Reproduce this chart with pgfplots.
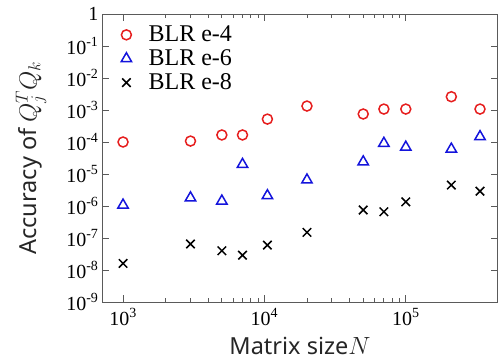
\documentclass[border=0pt]{standalone}
\usepackage{pgfplots}
\pgfplotsset{compat=1.18}
\usepackage{fontspec}
\setmainfont{Liberation Serif}
\newfontfamily\labelfont{Noto Sans}
\definecolor{axgray}{RGB}{90,90,90}
\definecolor{mred}{RGB}{230,30,30}
\definecolor{mblue}{RGB}{20,20,220}
\begin{document}
\begin{tikzpicture}
\useasboundingbox (-102pt,-62pt) rectangle (397pt,302pt);
\begin{axis}[
  scale only axis,
  width=396pt, height=288pt,
  xmode=log, ymode=log,
  xmin=710, xmax=4.49e5,
  ymin=1e-9, ymax=1,
  axis line style={axgray, line width=1pt},
  tick style={axgray, line width=0.8pt},
  major tick length=7pt,
  minor tick length=4pt,
  tick align=inside,
  xtick={1e3,1e4,1e5},
  xticklabels={10\textsuperscript{3},10\textsuperscript{4},10\textsuperscript{5}},
  ytick={1e-9,1e-8,1e-7,1e-6,1e-5,1e-4,1e-3,1e-2,1e-1,1},
  yticklabels={10\textsuperscript{-9},10\textsuperscript{-8},10\textsuperscript{-7},10\textsuperscript{-6},10\textsuperscript{-5},10\textsuperscript{-4},10\textsuperscript{-3},10\textsuperscript{-2},10\textsuperscript{-1},1},
  yminorticks=false,
  ticklabel style={font=\fontsize{20}{21}\selectfont, black},
  xticklabel style={yshift=-3pt},
  xlabel={\labelfont Matrix size$N$},
  ylabel={\labelfont Accuracy of $Q_j^TQ_k$},
  label style={font=\fontsize{23.5}{25}\selectfont, black!85},
  xlabel style={at={(axis description cs:0.5,-0.184)}, anchor=base},
  ylabel style={at={(axis description cs:-0.165,0.5)}, anchor=base},
  legend style={at={(0,1)}, anchor=north west, draw=none, fill=none,
    font=\fontsize{24}{25}\selectfont, xshift=19pt, yshift=-10pt,
    /tikz/row sep=2.5pt, /tikz/column sep=15pt, inner sep=0pt},
  legend cell align=left,
]
\addplot[only marks, mark=o, mark size=5pt, mred, line width=1.5pt] coordinates {
(1000,1.0e-4) (3000,1.07e-4) (5000,1.66e-4) (7000,1.66e-4) (10500,5.2e-4)
(20000,1.33e-3) (50000,7.5e-4) (70000,1.07e-3) (100000,1.07e-3) (210000,2.6e-3) (335000,1.07e-3)};
\addlegendentry{BLR e-4}
\addplot[only marks, mark=triangle, mark size=6pt, mblue, line width=1.5pt] coordinates {
(1000,1.07e-6) (3000,1.8e-6) (5000,1.43e-6) (7000,2.0e-5) (10500,2.1e-6)
(20000,6.5e-6) (50000,2.4e-5) (70000,9.1e-5) (100000,6.9e-5) (210000,6.0e-5) (335000,1.47e-4)};
\addlegendentry{BLR e-6}
\addplot[only marks, mark=x, mark size=6pt, black, line width=1.5pt] coordinates {
(1000,1.6e-8) (3000,6.5e-8) (5000,4.0e-8) (7000,2.9e-8) (10500,6.0e-8)
(20000,1.5e-7) (50000,7.5e-7) (70000,6.6e-7) (100000,1.35e-6) (210000,4.5e-6) (335000,2.9e-6)};
\addlegendentry{BLR e-8}
\end{axis}
\end{tikzpicture}
\end{document}
